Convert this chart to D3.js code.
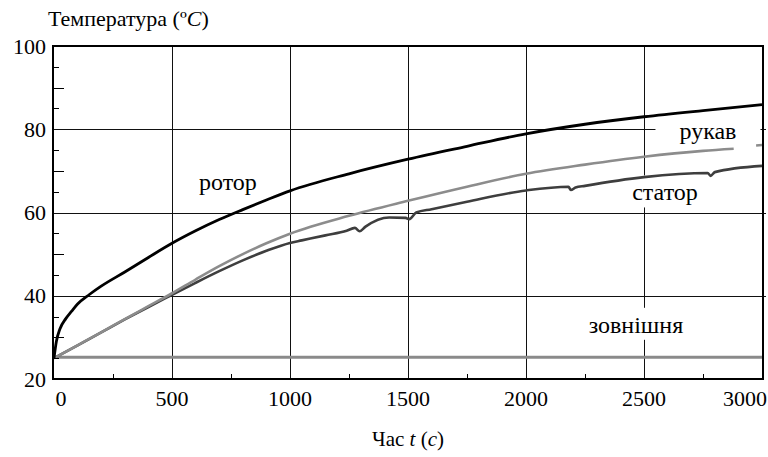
<!DOCTYPE html>
<html>
<head>
<meta charset="utf-8">
<script src="https://cdn.jsdelivr.net/npm/d3@7"></script>
<style>
  body { margin: 0; background: #fff; }
</style>
</head>
<body>
<svg id="chart" width="768" height="457"></svg>
<script>
// --- data ---
var xTicks = [0, 500, 1000, 1500, 2000, 2500, 3000];
var yTicks = [20, 40, 60, 80, 100];

var rotorT = [0, 10, 25, 50, 75, 100, 150, 200, 300, 400, 500, 600, 700, 800, 900, 1000, 1250, 1500, 1750, 2000, 2250, 2500, 2750, 3000];
var rotorV = [25, 29, 32, 34.5, 36.3, 38, 40.3, 42.3, 45.7, 49.2, 52.6, 55.6, 58.3, 60.7, 63.0, 65.2, 69.3, 72.8, 75.9, 78.9, 81.2, 83.0, 84.5, 85.9];

var sleeveT = [0, 100, 200, 300, 400, 500, 600, 700, 800, 900, 1000, 1250, 1500, 1750, 2000, 2250, 2500, 2750, 2880, 2920, 2975, 3000];
var sleeveV = [25, 28.1, 31.2, 34.4, 37.5, 40.6, 43.9, 47.1, 50.0, 52.6, 54.9, 59.2, 62.8, 66.2, 69.3, 71.5, 73.4, 74.8, 75.3, null, 76.1, 76.2];

var statorT = [0, 100, 200, 300, 400, 500, 600, 700, 800, 900, 1000, 1050, 1150, 1240, 1275, 1295, 1320, 1420, 1490, 1505, 1535, 1600, 1750, 2000, 2180, 2190, 2210, 2250, 2500, 2770, 2782, 2800, 3000];
var statorV = [25, 28.1, 31.2, 34.3, 37.3, 40.2, 43.1, 45.9, 48.5, 50.8, 52.7, 53.3, 54.5, 55.6, 56.3, 55.5, 56.6, 58.8, 58.7, 58.4, 60.0, 60.8, 62.6, 65.3, 66.2, 65.4, 66.0, 66.4, 68.5, 69.5, 68.8, 69.7, 71.2];

var outsideT = [0, 500, 1000, 1500, 2000, 2500, 3000];
var outsideV = [25.2, 25.2, 25.2, 25.2, 25.2, 25.2, 25.2];

// series labels: name and the point (time, temperature) of its baseline centre
var seriesNames = ["ротор", "рукав", "статор", "зовнішня"];
var labelT = [737, 2771, 2589, 2466];
var labelV = [65.4, 77.7, 62.9, 31.1];

// --- drawing ---
var FONT = "Liberation Serif";
var svg = d3.select("#chart");
var plotL = 53, plotR = 763, plotT = 46, plotB = 379;

var x = d3.scaleLinear().domain([0, 3000]).range([54, 762]);
var y = d3.scaleLinear().domain([20, 100]).range([plotB, plotT]);

// grid
var grid = svg.append("g").attr("class", "grid").attr("stroke", "#111").attr("stroke-width", 1);
grid.selectAll("line.v")
    .data(xTicks.filter(function(d) { return d > 0 && d < 3000; }))
    .enter().append("line")
    .attr("x1", function(d) { return Math.round(x(d)) + 0.5; })
    .attr("x2", function(d) { return Math.round(x(d)) + 0.5; })
    .attr("y1", plotT).attr("y2", plotB);
grid.selectAll("line.h")
    .data(yTicks.filter(function(d) { return d > 20 && d < 100; }))
    .enter().append("line")
    .attr("y1", function(d) { return Math.round(y(d)) + 0.5; })
    .attr("y2", function(d) { return Math.round(y(d)) + 0.5; })
    .attr("x1", plotL).attr("x2", plotR + 3);

// series labels
var labels = svg.append("g").attr("class", "labels");
var labelNodes = labels.selectAll("text")
    .data(seriesNames)
    .enter().append("text")
    .attr("font-family", FONT)
    .attr("font-size", 24)
    .attr("fill", "#000")
    .attr("x", function(d, i) { return x(labelT[i]); })
    .attr("y", function(d, i) { return y(labelV[i]); })
    .attr("text-anchor", "middle")
    .text(function(d) { return d; });

// white boxes behind the labels hide the grid
var boxes = svg.insert("g", ".labels").attr("class", "boxes");
labelNodes.each(function(d, i) {
  var b = this.getBBox();
  var padX = (i === 1) ? 24 : 8;
  boxes.append("rect")
      .attr("x", b.x - padX).attr("y", b.y - 4)
      .attr("width", b.width + padX * 2).attr("height", b.height + 6)
      .attr("fill", "#fff");
});

// curves
var curves = svg.insert("g", ".labels").attr("class", "curves")
    .attr("fill", "none").attr("stroke-linejoin", "round");

function drawSeries(ts, vs, color, width) {
  var pts = ts.map(function(t, i) { return [t, vs[i]]; });
  var line = d3.line()
      .defined(function(d) { return d[1] !== null; })
      .curve(d3.curveMonotoneX)
      .x(function(d) { return x(d[0]); })
      .y(function(d) { return y(d[1]); });
  curves.append("path")
      .datum(pts)
      .attr("d", line)
      .attr("stroke", color)
      .attr("stroke-width", width);
}

drawSeries(outsideT, outsideV, "#8a8a8a", 3);
drawSeries(statorT, statorV, "#3e3e3e", 2.6);
drawSeries(sleeveT, sleeveV, "#8c8c8c", 2.6);
drawSeries(rotorT, rotorV, "#000", 2.8);

// frame
svg.append("rect")
    .attr("x", plotL).attr("y", plotT)
    .attr("width", plotR - plotL).attr("height", plotB - plotT)
    .attr("fill", "none").attr("stroke", "#000").attr("stroke-width", 2);

// minor ticks on left axis (every 5, longer at 10)
var yMinor = d3.range(25, 100, 5).filter(function(d) { return d % 20 !== 0; });
svg.append("g").selectAll("line")
    .data(yMinor)
    .enter().append("line")
    .attr("x1", plotL)
    .attr("x2", function(d) { return plotL + (d % 10 === 0 ? 11 : 6); })
    .attr("y1", function(d) { return Math.round(y(d)) + 0.5; })
    .attr("y2", function(d) { return Math.round(y(d)) + 0.5; })
    .attr("stroke", "#000").attr("stroke-width", 1);

// minor ticks on bottom axis (every 250)
var xMinor = d3.range(250, 3000, 500);
svg.append("g").selectAll("line")
    .data(xMinor)
    .enter().append("line")
    .attr("x1", function(d) { return Math.round(x(d)) + 0.5; })
    .attr("x2", function(d) { return Math.round(x(d)) + 0.5; })
    .attr("y1", plotB).attr("y2", plotB - 5)
    .attr("stroke", "#000").attr("stroke-width", 1);

// tick labels
svg.append("g")
    .selectAll("text")
    .data(yTicks)
    .enter().append("text")
    .attr("font-family", FONT)
    .attr("font-size", 22)
    .attr("x", 46)
    .attr("y", function(d) { return y(d); })
    .attr("dy", "0.35em")
    .attr("text-anchor", "end")
    .text(function(d) { return d; });

svg.append("g")
    .selectAll("text")
    .data(xTicks)
    .enter().append("text")
    .attr("font-family", FONT)
    .attr("font-size", 22)
    .attr("x", function(d) { return d === 0 ? 61 : d === 3000 ? 745 : x(d); })
    .attr("y", 406)
    .attr("text-anchor", "middle")
    .text(function(d) { return d; });

// axis titles
var yTitle = svg.append("text")
    .attr("x", 48).attr("y", 26)
    .attr("font-family", FONT)
    .attr("font-size", 22);
yTitle.append("tspan").text("Температура (º");
yTitle.append("tspan").attr("font-style", "italic").text("C");
yTitle.append("tspan").text(")");

var xTitle = svg.append("text")
    .attr("x", 408).attr("y", 446)
    .attr("text-anchor", "middle")
    .attr("font-family", FONT)
    .attr("font-size", 21);
xTitle.append("tspan").text("Час ");
xTitle.append("tspan").attr("font-style", "italic").text("t");
xTitle.append("tspan").text(" (");
xTitle.append("tspan").attr("font-style", "italic").text("c");
xTitle.append("tspan").text(")");
</script>
</body>
</html>
